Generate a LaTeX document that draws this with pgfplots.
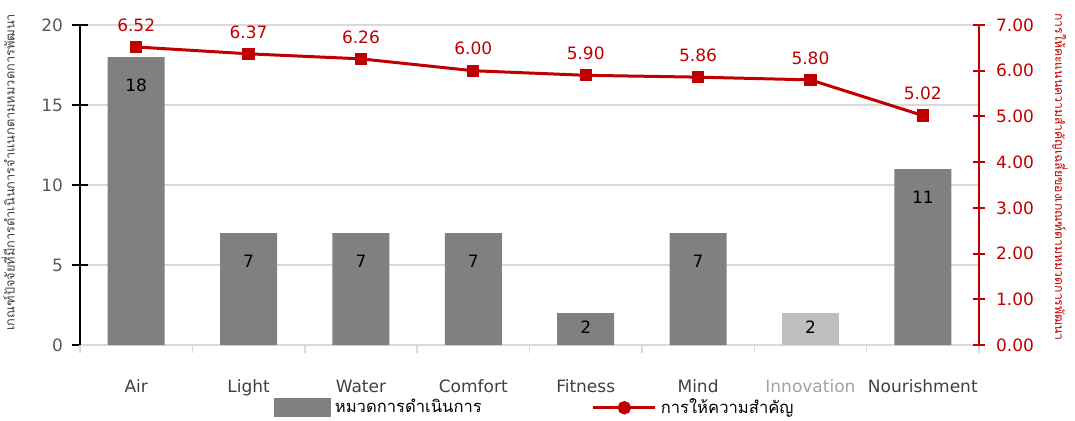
\documentclass[border=0pt]{standalone}
\usepackage{pgfplots}
\pgfplotsset{compat=1.18}
\usepackage{fontspec}
\setmainfont{DejaVu Sans}
\newfontfamily\thaifont[Script=Thai]{Loma}

\definecolor{barDark}{HTML}{808080}
\definecolor{barLight}{HTML}{BFBFBF}
\definecolor{lineRed}{HTML}{C00000}
\definecolor{gridGray}{HTML}{D9D9D9}
\definecolor{tickGray}{HTML}{595959}
\definecolor{catGray}{HTML}{404040}

\pgfplotstableread{
x count
0 18
1 7
2 7
3 7
4 2
5 7
7 11
}\countdata
\pgfplotstableread{
x count
6 2
}\innovationdata
\pgfplotstableread{
x score
0 6.52
1 6.37
2 6.26
3 6.00
4 5.90
5 5.86
6 5.80
7 5.02
}\scoredata

\begin{document}
\begin{tikzpicture}[font=\fontsize{8.5}{10}\selectfont]
\pgfplotsset{
  base/.style={
    scale only axis, width=449.5pt, height=160pt,
    xmin=-0.5, xmax=7.5,
    /pgf/number format/assume math mode=true,
    tick label style={font=\fontsize{8.5}{10}\selectfont},
  }
}
% counts per category (left axis)
\begin{axis}[base,
  ymin=0, ymax=20, ytick={0,5,...,20},
  ymajorgrids, grid style={gridGray, line width=0.75pt},
  axis x line*=bottom, axis y line*=left,
  x axis line style={gridGray, line width=0.75pt, -},
  y axis line style={black, line width=1.2pt, -},
  ytick style={black, line width=1.2pt},
  major tick length=8pt, tick align=center,
  yticklabel style={text=tickGray, xshift=-1pt},
  xtick={0,...,7},
  xticklabels={Air,Light,Water,Comfort,Fitness,Mind,\textcolor{barLight!85!black}{Innovation},Nourishment},
  xticklabel style={text=catGray, yshift=-6pt},
  major x tick style={draw=none},
  extra x ticks={-0.5,0.5,...,7.5},
  extra x tick labels={},
  extra x tick style={major x tick style={draw=gridGray, line width=0.75pt}, tick align=outside, major tick length=4pt, xmajorgrids=false},
  ylabel={\thaifont\fontsize{6.4}{8}\selectfont เกณฑ์ปัจจัยที่มีการดำเนินการจำแนกตามหมวดการพัฒนา},
  ylabel style={text=catGray, at={(rel axis cs:0,0.54)}, anchor=center, yshift=36pt},
  ybar, bar width=28.5pt, bar shift=0pt,
  nodes near coords,
  visualization depends on={y \as \rawy},
  every node near coord/.append style={anchor=center, text=black, yshift={-min(14,3.5*\rawy)*1pt}},
]
\addplot[fill=barDark, draw=none] table[x=x, y=count] {\countdata};
\addplot[fill=barLight, draw=none] table[x=x, y=count] {\innovationdata};
\end{axis}

% mean importance score (right axis)
\begin{axis}[base,
  ymin=0, ymax=7, ytick={0,1,...,7},
  axis y line*=right, axis x line=none,
  y axis line style={lineRed, line width=1pt, -},
  ytick style={lineRed, line width=1pt},
  major tick length=6pt, tick align=center,
  yticklabel style={text=lineRed, xshift=2pt, /pgf/number format/.cd, fixed, fixed zerofill, precision=2},
  ylabel={\thaifont\fontsize{6.1}{7.5}\selectfont การให้คะแนนความสำคัญเฉลี่ยของเกณฑ์ตามหมวดการพัฒนา},
  ylabel style={text=lineRed, at={(rel axis cs:1,0.525)}, anchor=center, rotate=180, yshift=40.5pt},
  legend columns=2,
  legend style={draw=none, fill=none, at={(rel axis cs:0.507,-0.196)}, anchor=center,
    font=\thaifont\fontsize{8.3}{10}\selectfont, text=black,
    /tikz/every even column/.append style={column sep=53pt}},
  legend cell align=left,
]
\addlegendimage{legend image code/.code={\fill[barDark] (0pt,-4.5pt) rectangle (28pt,4.5pt);}}
\addlegendentry{หมวดการดำเนินการ}
\addplot[lineRed, line width=1.5pt, mark=square*, mark size=2.3pt,
  nodes near coords, point meta=explicit,
  every node near coord/.append style={anchor=center, yshift=11pt, text=lineRed, font=\fontsize{8.5}{10}\selectfont,
    /pgf/number format/.cd, fixed, fixed zerofill, precision=2},
  legend image code/.code={\draw[lineRed, line width=1.5pt] (0pt,0pt) -- (31pt,0pt);
    \fill[lineRed] (15.5pt,0pt) circle (2.6pt);}]
  table[x=x, y=score, meta=score] {\scoredata};
\addlegendentry{การให้ความสำคัญ}
\end{axis}
\pgfresetboundingbox
\path (-40pt,-37.5pt) rectangle (497.5pt,172.5pt);
\end{tikzpicture}
\end{document}
